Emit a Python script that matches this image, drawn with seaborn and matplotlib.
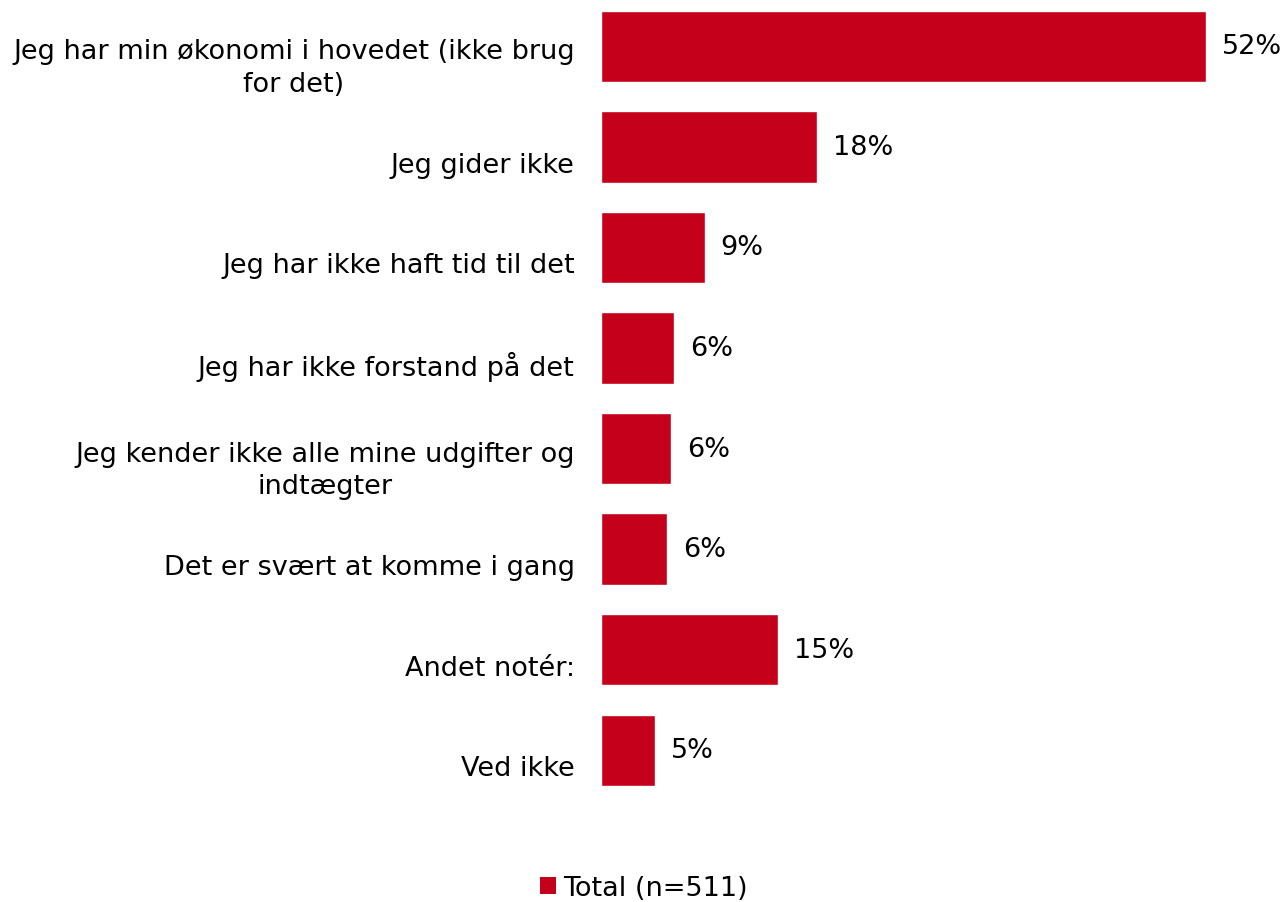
import matplotlib
matplotlib.use("Agg")
import matplotlib.pyplot as plt
import matplotlib.transforms as mtransforms
import seaborn as sns
import pandas as pd
from matplotlib.patches import Patch

categories = [
    "Jeg har min økonomi i hovedet (ikke brug\nfor det)",
    "Jeg gider ikke",
    "Jeg har ikke haft tid til det",
    "Jeg har ikke forstand på det",
    "Jeg kender ikke alle mine udgifter og\nindtægter",
    "Det er svært at komme i gang",
    "Andet notér:",
    "Ved ikke",
]
values = [52.0, 18.6, 8.9, 6.3, 6.0, 5.7, 15.2, 4.6]
value_labels = ["52%", "18%", "9%", "6%", "6%", "6%", "15%", "5%"]
series_name = "Total (n=511)"
color = "#C5001A"

df = pd.DataFrame({"category": categories, "value": values})

sns.set_theme(style="white")
plt.rcParams["font.family"] = ["DejaVu Sans"]

FS = 19.5
fig = plt.figure(figsize=(12.88, 9.03), dpi=100)
ax = fig.add_axes([601 / 1288, 1 - 806 / 903, 0.524, 806 / 903])

sns.barplot(data=df, x="value", y="category", color=color, width=0.71,
            saturation=1, ax=ax, orient="h")

for p, lab in zip(ax.patches, value_labels):
    ax.annotate(lab, (p.get_width(), p.get_y() + p.get_height() / 2),
                xytext=(16, 0), textcoords="offset pixels",
                va="center", ha="left", fontsize=FS, color="#000000")

ax.set_xlim(0, 58)
ax.set_ylim(7.544, -0.47)
ax.set_xlabel("")
ax.set_ylabel("")
ax.set_xticks([])
ax.tick_params(axis="y", length=0, pad=19, labelsize=FS, labelcolor="#000000")
shift = mtransforms.ScaledTranslation(0, -15 / 100, fig.dpi_scale_trans)
for t in ax.get_yticklabels():
    t.set_multialignment("center")
    t.set_linespacing(1.32)
    t.set_transform(t.get_transform() + shift)
for s in ax.spines.values():
    s.set_visible(False)

handles = [Patch(facecolor=color, edgecolor="none", label=series_name)]
leg = fig.legend(handles=handles, loc="center", bbox_to_anchor=(0.5, 1 - 889 / 903),
                 frameon=False, fontsize=FS, handlelength=0.6, handleheight=0.6,
                 handletextpad=0.25)
for t in leg.get_texts():
    t.set_color("#000000")

fig.savefig("out.png", dpi=100)
